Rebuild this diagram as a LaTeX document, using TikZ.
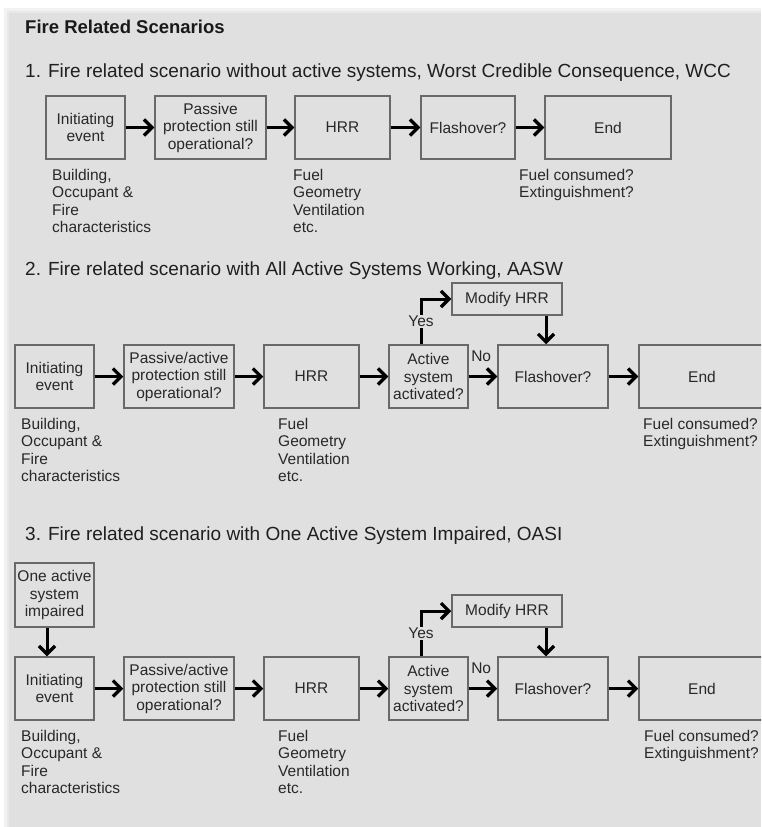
\documentclass[tikz,border=0pt]{standalone}
\usepackage{fontspec}
\setmainfont{Liberation Sans}
\usetikzlibrary{arrows.meta}
\definecolor{panelgray}{RGB}{224,224,224}
\definecolor{framegray}{RGB}{105,105,105}
\definecolor{inkgray}{RGB}{40,40,40}

\begin{document}
\begin{tikzpicture}[x=1pt,y=-1pt,
        box/.style={draw=framegray,line width=1.5pt,fill=panelgray,align=center,inner sep=1pt,
            minimum height=63pt,text=inkgray,font=\fontsize{15.5}{17.5}\selectfont},
        note/.style={anchor=north west,align=left,inner sep=0pt,text=inkgray,
            font=\fontsize{15.5}{17.5}\selectfont},
        heading/.style={anchor=base west,inner sep=0pt,text=black!88,font=\fontsize{19}{22}\selectfont},
        flow/.style={line width=3pt,-{Straight Barb[length=8pt,width=16pt,line width=3.2pt]}},
        tag/.style={inner sep=1pt,text=inkgray,font=\fontsize{15.5}{17.5}\selectfont}]

    % Panel
    \useasboundingbox (0,0) rectangle (761,827);
    \fill[white] (0,0) rectangle (761,827);
    \fill[black!5] (4,8) rectangle (761,827);
    \fill[black!9] (7,11) rectangle (761,827);
    \fill[panelgray] (9,13) rectangle (761,827);
    \clip (0,0) rectangle (761,827);

    \node[anchor=base west,inner sep=0pt,text=black!90,font=\fontsize{18.5}{22}\selectfont\bfseries]
        (title) at (25,33.5) {Fire Related Scenarios};

    % Scenario 1
    \node[heading] (head1) at (25,77) {1. Fire related scenario without active systems, Worst Credible Consequence, WCC};
    \node[box,minimum width=79pt] (init1) at (85.5,127.5) {Initiating\\event};
    \node[box,minimum width=111pt] (pass1) at (210.5,127.5) {Passive\\protection still\\operational?};
    \node[box,minimum width=95pt] (hrr1) at (342.5,127.5) {HRR};
    \node[box,minimum width=94pt] (flash1) at (468,127.5) {Flashover?};
    \node[box,minimum width=126pt] (end1) at (608,127.5) {End};
    \node[note] (char1) at (52,169) {Building,\\Occupant \&\\Fire\\characteristics};
    \node[note] (fuel1) at (293,169) {Fuel\\Geometry\\Ventilation\\etc.};
    \node[note] (cons1) at (519,169) {Fuel consumed?\\Extinguishment?};

    \draw[flow] (init1) -- (pass1);
    \draw[flow] (pass1) -- (hrr1);
    \draw[flow] (hrr1) -- (flash1);
    \draw[flow] (flash1) -- (end1);

    % Scenario 2
    \node[heading] (head2) at (25,275) {2. Fire related scenario with All Active Systems Working, AASW};
    \node[box,minimum width=79pt] (init2) at (54.5,376.5) {Initiating\\event};
    \node[box,minimum width=110pt] (pass2) at (179,376.5) {Passive/active\\protection still\\operational?};
    \node[box,minimum width=95pt] (hrr2) at (311.5,376.5) {HRR};
    \node[box,minimum width=79pt] (act2) at (428.5,376.5) {Active\\system\\activated?};
    \node[box,minimum width=110pt] (flash2) at (553,376.5) {Flashover?};
    \node[box,minimum width=126pt] (end2) at (702,376.5) {End};
    \node[box,minimum width=110pt,minimum height=32pt] (mod2) at (507,299) {Modify HRR};
    \node[note] (char2) at (21,418) {Building,\\Occupant \&\\Fire\\characteristics};
    \node[note] (fuel2) at (278,418) {Fuel\\Geometry\\Ventilation\\etc.};
    \node[note] (cons2) at (643,418) {Fuel consumed?\\Extinguishment?};

    \draw[flow] (init2) -- (pass2);
    \draw[flow] (pass2) -- (hrr2);
    \draw[flow] (hrr2) -- (act2);
    \draw[flow] (act2) -- node[tag,pos=0,anchor=base west,yshift=15pt] {No} (flash2);
    \draw[flow] (flash2) -- (end2);
    \draw[flow] ([xshift=-7.5pt]act2.north) |- node[tag,pos=0.25,fill=panelgray] {Yes} (mod2.west);
    \draw[flow] ([xshift=39pt]mod2.south) -- ([xshift=-7pt]flash2.north);

    % Scenario 3
    \node[heading] (head3) at (25,540) {3. Fire related scenario with One Active System Impaired, OASI};
    \node[box,minimum width=79pt,minimum height=64pt] (imp3) at (54.5,595) {One active\\system\\impaired};
    \node[box,minimum width=79pt] (init3) at (54.5,688.5) {Initiating\\event};
    \node[box,minimum width=110pt] (pass3) at (179,688.5) {Passive/active\\protection still\\operational?};
    \node[box,minimum width=95pt] (hrr3) at (311.5,688.5) {HRR};
    \node[box,minimum width=79pt] (act3) at (428.5,688.5) {Active\\system\\activated?};
    \node[box,minimum width=110pt] (flash3) at (553,688.5) {Flashover?};
    \node[box,minimum width=126pt] (end3) at (702,688.5) {End};
    \node[box,minimum width=110pt,minimum height=32pt] (mod3) at (507,611) {Modify HRR};
    \node[note] (char3) at (21,730) {Building,\\Occupant \&\\Fire\\characteristics};
    \node[note] (fuel3) at (278,730) {Fuel\\Geometry\\Ventilation\\etc.};
    \node[note] (cons3) at (644,730) {Fuel consumed?\\Extinguishment?};

    \draw[flow] ([xshift=-7.5pt]imp3.south) -- ([xshift=-7.5pt]init3.north);
    \draw[flow] (init3) -- (pass3);
    \draw[flow] (pass3) -- (hrr3);
    \draw[flow] (hrr3) -- (act3);
    \draw[flow] (act3) -- node[tag,pos=0,anchor=base west,yshift=15pt] {No} (flash3);
    \draw[flow] (flash3) -- (end3);
    \draw[flow] ([xshift=-7.5pt]act3.north) |- node[tag,pos=0.25,fill=panelgray] {Yes} (mod3.west);
    \draw[flow] ([xshift=39pt]mod3.south) -- ([xshift=-7pt]flash3.north);
\end{tikzpicture}
\end{document}
